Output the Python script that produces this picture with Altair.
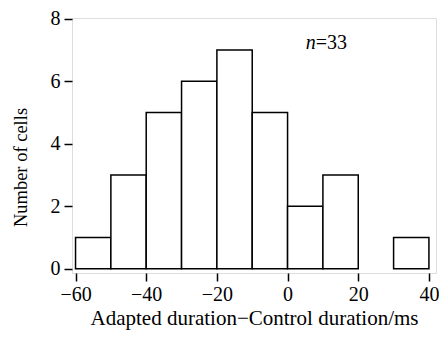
import altair as alt
import pandas as pd

bin_start = [-60, -50, -40, -30, -20, -10, 0, 10, 20, 30]
bin_end = [-50, -40, -30, -20, -10, 0, 10, 20, 30, 40]
counts = [1, 3, 5, 6, 7, 5, 2, 3, 0, 1]

x_ticks = [-60, -40, -20, 0, 20, 40]
y_ticks = [0, 2, 4, 6, 8]

note_x = [8.0]
note_y = [7.22]

df = pd.DataFrame({"start": bin_start, "end": bin_end, "count": counts})
note = pd.DataFrame({"x": note_x, "y": note_y})

FONT = "Liberation Serif"

xscale = alt.Scale(domain=[-61, 42], nice=False, zero=False)
yscale = alt.Scale(domain=[-0.14, 8.02], nice=False, zero=False)

bars = alt.Chart(df).transform_filter("datum.count > 0").mark_bar(
    fill="white", stroke="black", strokeWidth=1.5
).encode(
    x=alt.X("start:Q", scale=xscale,
            axis=alt.Axis(values=x_ticks, title="Adapted duration\u2212Control duration/ms",
                          labelExpr="replace(datum.label, '-', '\u2212')",
                          tickSize=8, tickWidth=1.5, tickColor="black", domain=False,
                          grid=False, labelFont=FONT, labelFontSize=20, labelColor="black",
                          labelPadding=3,
                          titleFont=FONT, titleFontSize=21, titleFontWeight="normal",
                          titleColor="black", titleBaseline="alphabetic", titleY=51)),
    x2="end:Q",
    y=alt.Y("count:Q", scale=yscale,
            axis=alt.Axis(values=y_ticks, title="Number of cells",
                          tickSize=8, tickWidth=1.5, tickColor="black", domain=False,
                          grid=False, labelFont=FONT, labelFontSize=20, labelColor="black",
                          labelPadding=4,
                          titleFont=FONT, titleFontSize=18.5, titleFontWeight="normal",
                          titleColor="black", titlePadding=20, titleY=149)),
    y2=alt.datum(0),
)

n_text = alt.Chart(note).mark_text(
    text="n", font=FONT, fontSize=20, fontStyle="italic", align="right", baseline="middle", color="black"
).encode(x=alt.X("x:Q", scale=xscale), y=alt.Y("y:Q", scale=yscale))

eq_text = alt.Chart(note).mark_text(
    text="=33", font=FONT, fontSize=20, align="left", baseline="middle", color="black"
).encode(x=alt.X("x:Q", scale=xscale), y=alt.Y("y:Q", scale=yscale))

chart = alt.layer(bars, n_text, eq_text).properties(
    width=364, height=255,
    autosize=alt.AutoSizeParams(type="none"),
    padding={"left": 64, "top": 10, "right": 3, "bottom": 57},
).configure_view(stroke="black", strokeWidth=1.5).configure(background="white")

chart.save("out.html", embed_options={"renderer": "svg", "actions": False})
